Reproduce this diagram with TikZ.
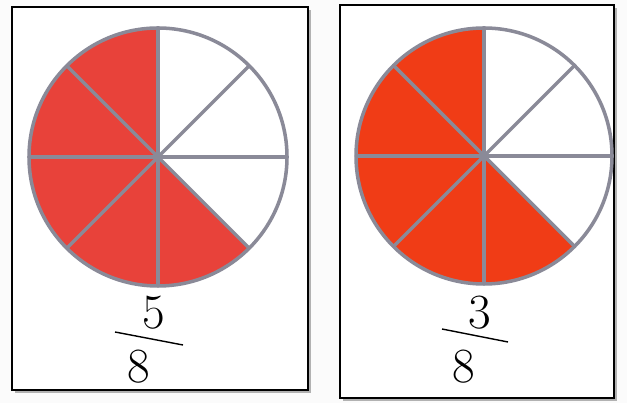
\documentclass[tikz,border=0pt]{standalone}
\usepackage{xcolor}
\usepackage{tikz}

\definecolor{pinkred}{RGB}{232,66,58}
\definecolor{orangered}{RGB}{240,60,22}
\definecolor{spokegrey}{RGB}{138,138,152}

\begin{document}
\begin{tikzpicture}[x=0.03cm, y=0.03cm,
  card/.style={draw=black, line width=1.6pt, fill=white},
  spoke/.style={draw=spokegrey, line width=3pt},
  digit/.style={font=\fontsize{42}{42}\selectfont, inner sep=0pt}]
  \useasboundingbox[fill=white!97!gray] (0,0) rectangle (627,403);

  % left card
  \fill[gray!60] (15,10) rectangle (311,393);
  \draw[card] (12,13) rectangle (308,396);
  \coordinate (lc) at (158,246);
  \fill[pinkred] (lc) -- ++(90:129) arc[start angle=90, end angle=315, radius=129] -- cycle;
  \foreach \a in {0,45,...,315}
    \draw[spoke] (lc) -- ++(\a:129);
  \draw[spoke] (lc) circle[radius=129];
  \node[digit] (lnum) at (154,90) {5};
  \coordinate (lbarA) at (115,71);
  \coordinate (lbarB) at (183,58);
  \draw[line width=1.2pt] (lbarA) -- (lbarB);
  \node[digit] (lden) at (139,36) {8};

  % right card
  \fill[gray!60] (343,2) rectangle (617,395);
  \draw[card] (340,5) rectangle (614,398);
  \coordinate (rc) at (484,247);
  \fill[orangered] (rc) -- ++(90:128) arc[start angle=90, end angle=315, radius=128] -- cycle;
  \foreach \a in {0,45,...,315}
    \draw[spoke] (rc) -- ++(\a:128);
  \draw[spoke] (rc) circle[radius=128];
  \node[digit] (rnum) at (480,90) {3};
  \coordinate (rbarA) at (442,74);
  \coordinate (rbarB) at (508,61);
  \draw[line width=1.2pt] (rbarA) -- (rbarB);
  \node[digit] (rden) at (464,36) {8};
\end{tikzpicture}
\end{document}
